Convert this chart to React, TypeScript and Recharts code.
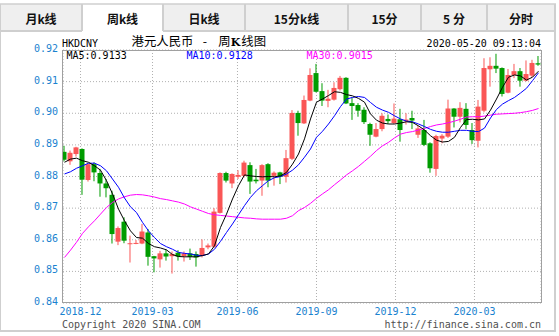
import React from 'react';
import { ComposedChart, Bar, Line, XAxis, YAxis, CartesianGrid } from 'recharts';

// Weekly HKD/CNY candles (index 0 = first visible week)
const opens = [0.8878,0.8848,0.8871,0.8887,0.8789,0.8839,0.8811,0.8778,0.8742,0.8594,
0.8657,0.8587,0.8587,0.8588,0.8623,0.8548,0.8538,0.8557,0.8548,0.8559,
0.8548,0.8557,0.8555,0.8550,0.8576,0.8578,0.8685,0.8811,0.8778,0.8799,
0.8802,0.8836,0.8790,0.8787,0.8839,0.8802,0.8813,0.8799,0.8856,0.9001,
0.8968,0.9040,0.9127,0.9070,0.9039,0.9043,0.9076,0.9112,0.9032,0.9026,
0.9011,0.8966,0.8926,0.8950,0.8982,0.8969,0.8981,0.8975,0.8985,0.8932,
0.8947,0.8905,0.8824,0.8920,0.8926,0.9015,0.8989,0.9014,0.8947,0.8913,
0.9008,0.9139,0.9150,0.9143,0.9065,0.9121,0.9133,0.9103,0.9119,0.9158];

const highs = [0.8897,0.8882,0.8894,0.8889,0.8842,0.8845,0.8824,0.8792,0.8755,0.8642,
0.8671,0.8613,0.8599,0.8650,0.8634,0.8549,0.8565,0.8569,0.8563,0.8567,
0.8563,0.8572,0.8563,0.8601,0.8588,0.8700,0.8813,0.8815,0.8810,0.8820,
0.8850,0.8845,0.8824,0.8839,0.8842,0.8816,0.8815,0.8884,0.9010,0.9008,
0.9056,0.9142,0.9156,0.9095,0.9074,0.9098,0.9118,0.9114,0.9050,0.9032,
0.9019,0.8970,0.8969,0.9000,0.8996,0.9031,0.9014,0.9000,0.9008,0.8961,
0.8979,0.8908,0.8932,0.8934,0.9043,0.9016,0.9035,0.9032,0.8969,0.9042,
0.9174,0.9177,0.9188,0.9145,0.9140,0.9156,0.9143,0.9167,0.9169,0.9181];

const lows = [0.8848,0.8837,0.8863,0.8742,0.8784,0.8785,0.8736,0.8734,0.8588,0.8583,
0.8589,0.8528,0.8586,0.8586,0.8518,0.8497,0.8512,0.8534,0.8493,0.8534,
0.8531,0.8536,0.8515,0.8544,0.8570,0.8574,0.8683,0.8781,0.8763,0.8792,
0.8797,0.8745,0.8778,0.8739,0.8766,0.8771,0.8776,0.8781,0.8852,0.8929,
0.8966,0.9038,0.9066,0.9023,0.9019,0.9040,0.9072,0.9029,0.8979,0.8989,
0.8966,0.8897,0.8924,0.8943,0.8966,0.8966,0.8910,0.8964,0.8950,0.8922,
0.8896,0.8812,0.8802,0.8905,0.8922,0.8955,0.8971,0.8950,0.8903,0.8892,
0.9003,0.9084,0.9127,0.9053,0.9063,0.9111,0.9084,0.9101,0.9114,0.9150];

const closes = [0.8853,0.8875,0.8892,0.8790,0.8839,0.8813,0.8778,0.8763,0.8618,0.8637,
0.8597,0.8589,0.8590,0.8626,0.8546,0.8541,0.8557,0.8547,0.8555,0.8547,
0.8557,0.8546,0.8544,0.8574,0.8582,0.8689,0.8811,0.8787,0.8808,0.8805,
0.8844,0.8784,0.8785,0.8836,0.8787,0.8812,0.8799,0.8858,0.9001,0.8969,
0.9042,0.9121,0.9068,0.9040,0.9046,0.9080,0.9112,0.9031,0.9023,0.9008,
0.8972,0.8932,0.8950,0.8992,0.8975,0.8983,0.8947,0.8980,0.8977,0.8952,
0.8900,0.8826,0.8928,0.8929,0.9015,0.8989,0.9017,0.8963,0.8915,0.9021,
0.9143,0.9150,0.9141,0.9061,0.9121,0.9133,0.9103,0.9124,0.9159,0.9154];

const ma5 = [0.8845,0.8855,0.8858,0.8850,0.8845,0.8834,0.8820,0.8787,0.8745,0.8697,
0.8660,0.8628,0.8607,0.8605,0.8588,0.8578,0.8574,0.8568,0.8553,0.8547,
0.8546,0.8546,0.8546,0.8550,0.8555,0.8581,0.8639,0.8681,0.8729,0.8771,
0.8805,0.8802,0.8800,0.8799,0.8800,0.8799,0.8802,0.8813,0.8839,0.8871,
0.8919,0.8982,0.9035,0.9045,0.9056,0.9068,0.9066,0.9059,0.9055,0.9047,
0.9035,0.8998,0.8978,0.8969,0.8966,0.8966,0.8969,0.8973,0.8971,0.8960,
0.8947,0.8929,0.8915,0.8909,0.8911,0.8924,0.8955,0.8980,0.8981,0.8979,
0.8982,0.9010,0.9045,0.9082,0.9114,0.9121,0.9118,0.9105,0.9114,0.9133];

const ma10 = [0.8808,0.8815,0.8826,0.8834,0.8842,0.8842,0.8834,0.8818,0.8792,0.8766,
0.8732,0.8704,0.8686,0.8655,0.8628,0.8607,0.8588,0.8578,0.8570,0.8560,
0.8557,0.8555,0.8551,0.8550,0.8555,0.8570,0.8595,0.8623,0.8650,0.8679,
0.8708,0.8734,0.8755,0.8771,0.8787,0.8796,0.8800,0.8808,0.8820,0.8837,
0.8861,0.8887,0.8924,0.8943,0.8966,0.8992,0.9021,0.9045,0.9050,0.9053,
0.9050,0.9034,0.9019,0.9010,0.9003,0.8992,0.8982,0.8975,0.8973,0.8966,
0.8958,0.8949,0.8943,0.8940,0.8940,0.8943,0.8946,0.8946,0.8943,0.8942,
0.8953,0.8985,0.9012,0.9029,0.9040,0.9050,0.9064,0.9079,0.9103,0.9128];

const ma30 = [0.8544,0.8567,0.8592,0.8620,0.8641,0.8660,0.8681,0.8702,0.8718,0.8729,
0.8736,0.8741,0.8743,0.8742,0.8739,0.8735,0.8730,0.8727,0.8723,0.8719,
0.8713,0.8704,0.8697,0.8690,0.8683,0.8679,0.8677,0.8675,0.8673,0.8671,
0.8669,0.8668,0.8666,0.8665,0.8665,0.8665,0.8665,0.8668,0.8676,0.8692,
0.8702,0.8715,0.8731,0.8745,0.8758,0.8774,0.8789,0.8805,0.8818,0.8832,
0.8848,0.8864,0.8882,0.8897,0.8908,0.8922,0.8934,0.8939,0.8942,0.8947,
0.8952,0.8958,0.8963,0.8966,0.8970,0.8975,0.8981,0.8988,0.8989,0.8989,
0.8991,0.8994,0.8997,0.8998,0.8999,0.9000,0.9002,0.9005,0.9009,0.9015];

// Month boundaries expressed in week-index units, and their labels
const monthTickPos = [2.67, 14.67, 28.83, 42, 55.17, 68.33];
const monthTickLabels = ['2018-12', '2019-03', '2019-06', '2019-09', '2019-12', '2020-03'];
const priceTicks = [0.84, 0.85, 0.86, 0.87, 0.88, 0.89, 0.9, 0.91, 0.92];

const tabLabels = ['月k线', '周k线', '日k线', '15分k线', '15分', '5 分', '分时'];
const selectedTab = 1;
const symbolText = 'HKDCNY';
const titleMain = '港元人民币';
const timeText = '2020-05-20 09:13:04';
const copyrightText = 'Copyright 2020 SINA.COM';
const urlText = 'http://finance.sina.com.cn';

const RED = '#fa5656';
const GREEN = '#009c00';
const AXIS_BLUE = '#1a82cf';
const MONO = '"DejaVu Sans Mono", "Liberation Mono", monospace';
const CJK = '"Noto Sans CJK SC", "Noto Sans", sans-serif';

const rows = closes.map((c, i) => ({
  i,
  o: opens[i],
  h: highs[i],
  l: lows[i],
  c,
  range: [lows[i], highs[i]],
  ma5: ma5[i],
  ma10: ma10[i],
  ma30: ma30[i],
}));

function Candle(props: any) {
  const { x, y, width, height, payload } = props;
  if (x == null || y == null || !payload) return null;
  const top = height >= 0 ? y : y + height;
  const hpx = Math.abs(height);
  const { o, h, l, c } = payload;
  const color = c >= o ? RED : GREEN;
  const cx = x + width / 2;
  const span = h - l || 1e-9;
  const bTop = top + ((h - Math.max(o, c)) / span) * hpx;
  const bBot = top + ((h - Math.min(o, c)) / span) * hpx;
  return (
    <g>
      <line x1={cx} x2={cx} y1={top} y2={top + hpx} stroke={color} strokeWidth={1} />
      <rect x={x} y={bTop} width={width} height={Math.max(1, bBot - bTop)} fill={color} />
    </g>
  );
}

function YTick(p: any) {
  return (
    <text x={p.x - 5} y={p.y + 2} textAnchor="end" fill={AXIS_BLUE} fontFamily={MONO} fontSize={10}>
      {Number(p.payload.value).toFixed(2)}
    </text>
  );
}

function XTick(p: any) {
  const idx = monthTickPos.indexOf(p.payload.value);
  return (
    <text x={p.x} y={p.y + 12} textAnchor="middle" fill={AXIS_BLUE} fontFamily={MONO} fontSize={10}>
      {monthTickLabels[idx]}
    </text>
  );
}

const tabEdges = [0, 82, 163, 245, 348, 421, 487, 555];

export default function App() {
  const last = (a: number[]) => a[a.length - 1].toFixed(4);
  return (
    <div style={{ position: 'absolute', left: 0, top: 0, width: 559, height: 336, background: '#fff', overflow: 'hidden' }}>
      <svg width={559} height={336} style={{ position: 'absolute', left: 0, top: 0 }}>
        {tabLabels.map((t, k) => {
          const x0 = tabEdges[k];
          const x1 = tabEdges[k + 1];
          return (
            <g key={k}>
              <rect x={x0} y={4} width={x1 - x0} height={27} fill={k === selectedTab ? '#ffffff' : '#efefef'} />
              {k !== selectedTab && <line x1={x0} x2={x1} y1={31} y2={31} stroke="#cfcfcf" strokeWidth={2} />}
              <text x={(x0 + x1) / 2} y={18.5} dominantBaseline="central" textAnchor="middle" fontFamily={CJK} fontWeight="bold" fontSize={12} fill="#111">
                {t}
              </text>
            </g>
          );
        })}
        <line x1={0} x2={556} y1={4} y2={4} stroke="#cfcfcf" strokeWidth={1.5} />
        {tabEdges.slice(1, -1).map((e, k) => (
          <line key={k} x1={e} x2={e} y1={4} y2={31} stroke="#cfcfcf" strokeWidth={2} />
        ))}
        <line x1={0.5} x2={0.5} y1={4} y2={332} stroke="#cfcfcf" strokeWidth={1} />
        <line x1={555} x2={555} y1={4} y2={332} stroke="#cfcfcf" strokeWidth={2} />
        <line x1={0} x2={556} y1={331} y2={331} stroke="#cfcfcf" strokeWidth={2} />
      </svg>
      <div style={{ position: 'absolute', left: 0, top: 0 }}>
        <ComposedChart width={559} height={336} data={rows} margin={{ top: 50, right: 18, bottom: 13, left: 0 }}>
          <CartesianGrid stroke="#b0b0b0" strokeDasharray="1 2" />
          <XAxis
            type="number"
            dataKey="i"
            domain={[-0.25, 79.4167]}
            ticks={monthTickPos}
            interval={0}
            height={20}
            axisLine={false}
            tickLine={false}
            tickSize={0}
            tickMargin={0}
            allowDataOverflow
            tick={<XTick />}
          />
          <YAxis
            type="number"
            domain={[0.84, 0.92]}
            ticks={priceTicks}
            interval={0}
            width={63}
            axisLine={false}
            tickLine={false}
            tickSize={0}
            tickMargin={0}
            allowDataOverflow
            tick={<YTick />}
          />
          <Bar dataKey="range" barSize={5} shape={Candle} isAnimationActive={false} />
          <Line dataKey="ma30" type="linear" stroke="#ff00ff" strokeWidth={1} dot={false} isAnimationActive={false} />
          <Line dataKey="ma10" type="linear" stroke="#0000ff" strokeWidth={1} dot={false} isAnimationActive={false} />
          <Line dataKey="ma5" type="linear" stroke="#000000" strokeWidth={1} dot={false} isAnimationActive={false} />
        </ComposedChart>
      </div>
      <svg width={559} height={336} style={{ position: 'absolute', left: 0, top: 0, pointerEvents: 'none' }}>
        <rect x={62.5} y={50.5} width={479} height={252} fill="none" stroke="#a0a0a0" strokeWidth={1} />
        <text x={62} y={47} fontFamily={MONO} fontSize={10} fill="#000">{symbolText}</text>
        <text x={131.5} y={46} fontFamily={CJK} fontSize={12.4} fill="#000">{titleMain}</text>
        <text x={205} y={46} fontFamily={CJK} fontSize={12.4} fill="#000" textAnchor="middle">-</text>
        <text x={218.3} y={46} fontFamily={CJK} fontSize={12.4} fill="#000">
          <tspan>周</tspan>
          <tspan fontFamily='"DejaVu Serif", serif' fontWeight="bold" fontSize={11}>K</tspan>
          <tspan dx={1}>线图</tspan>
        </text>
        <text x={541} y={47} fontFamily={MONO} fontSize={10} fill="#000" textAnchor="end">{timeText}</text>
        <text x={66.5} y={58.5} fontFamily={MONO} fontSize={10} fill="#000">{`MA5:${last(ma5)}`}</text>
        <text x={186.5} y={58.5} fontFamily={MONO} fontSize={10} fill="#0000ff">{`MA10:${last(ma10)}`}</text>
        <text x={306.5} y={58.5} fontFamily={MONO} fontSize={10} fill="#ff00ff">{`MA30:${last(ma30)}`}</text>
        <text x={62} y={327.5} fontFamily={MONO} fontSize={10} fill="#505050">{copyrightText}</text>
        <text x={541} y={327.5} fontFamily={MONO} fontSize={10} fill="#505050" textAnchor="end">{urlText}</text>
      </svg>
    </div>
  );
}
